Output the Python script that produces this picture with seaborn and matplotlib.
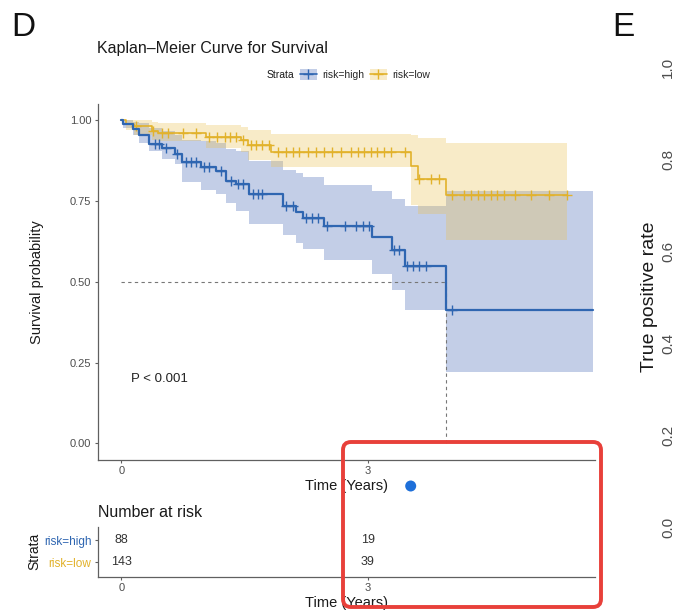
import numpy as np
import matplotlib
matplotlib.use("Agg")
import matplotlib.pyplot as plt
import seaborn as sns
from matplotlib.patches import Patch, FancyBboxPatch, Circle
from matplotlib.lines import Line2D

# ------------------------- data -------------------------
strata_labels = ["risk=high", "risk=low"]

high_time = [0.0, 0.02, 0.14, 0.22, 0.34, 0.49, 0.65, 0.74, 0.97, 1.15, 1.28, 1.40,
             1.56, 1.97, 2.13, 2.21, 2.47, 3.05, 3.30, 3.46, 3.95]
high_surv = [1.0, 0.989, 0.972, 0.953, 0.927, 0.915, 0.895, 0.869, 0.856, 0.843, 0.813,
             0.803, 0.770, 0.733, 0.715, 0.698, 0.671, 0.638, 0.597, 0.549, 0.413]
high_upper = [1.0, 1.0, 0.995, 0.99, 0.975, 0.965, 0.955, 0.94, 0.935, 0.93, 0.91,
              0.905, 0.875, 0.845, 0.835, 0.825, 0.80, 0.78, 0.757, 0.735, 0.78]
high_lower = [1.0, 0.975, 0.955, 0.93, 0.905, 0.88, 0.865, 0.81, 0.785, 0.77, 0.745,
              0.72, 0.68, 0.645, 0.62, 0.60, 0.567, 0.525, 0.475, 0.413, 0.22]
high_end = 5.75
high_censor = [0.41, 0.46, 0.55, 0.68, 0.79, 0.85, 0.91, 1.01, 1.07, 1.22, 1.34, 1.42,
               1.48, 1.60, 1.66, 1.72, 2.01, 2.09, 2.25, 2.32, 2.40, 2.51, 2.72, 2.86,
               2.94, 3.02, 3.32, 3.38, 3.48, 3.55, 3.63, 3.71, 4.03]

low_time = [0.0, 0.06, 0.16, 0.38, 0.45, 1.03, 1.46, 1.54, 1.82, 3.53, 3.61, 3.95]
low_surv = [1.0, 0.989, 0.982, 0.966, 0.959, 0.948, 0.938, 0.922, 0.903, 0.859, 0.818, 0.767]
low_upper = [1.0, 1.0, 1.0, 0.995, 0.99, 0.985, 0.98, 0.97, 0.956, 0.955, 0.946, 0.93]
low_lower = [1.0, 0.97, 0.955, 0.94, 0.935, 0.915, 0.90, 0.877, 0.855, 0.736, 0.71, 0.628]
low_end = 5.43
low_censor = [0.18, 0.39, 0.49, 0.57, 0.75, 0.91, 1.07, 1.17, 1.26, 1.32, 1.40, 1.48,
              1.58, 1.64, 1.72, 1.80, 1.91, 2.01, 2.09, 2.17, 2.27, 2.37, 2.47, 2.57,
              2.68, 2.80, 2.88, 2.96, 3.04, 3.12, 3.20, 3.28, 3.45, 3.63, 3.77, 3.87,
              4.03, 4.18, 4.26, 4.34, 4.42, 4.50, 4.58, 4.66, 4.79, 4.99, 5.21, 5.43]

x_ticks = [0, 3]
y_ticks = [0.0, 0.25, 0.50, 0.75, 1.00]
risk_times = [0, 3]
risk_high = [88, 19]
risk_low = [143, 39]
roc_ticks = [0.0, 0.2, 0.4, 0.6, 0.8, 1.0]
p_text = "P < 0.001"

# ------------------------- style -------------------------
sns.set_theme(style="ticks")
plt.rcParams["font.family"] = ["Liberation Sans", "DejaVu Sans"]

W, H = 677, 610
fig = plt.figure(figsize=(W / 100, H / 100), dpi=100)
fig.patch.set_facecolor("white")

def fx(px):
    return px / W

def fy(py):
    return 1 - py / H

blue = "#2F66B1"
blue_fill = "#3A5DB0"
gold = "#E2B22B"
gold_fill = "#EBBF4A"
axis_col = "#606060"
tick_col = "#4D4D4D"
txt_col = "#1a1a1a"

XL, XR = 98.3, 595.0
xlim = (-0.28, 5.77)

# ------------------------- main KM axes -------------------------
ax = fig.add_axes([fx(XL), fy(459.5), fx(XR) - fx(XL), (459.5 - 104) / H])


def steps(t, vals, end):
    return np.array(list(t) + [end]), np.array(list(vals) + [vals[-1]])


# bands: blue first, gold on top (beige overlap as in reference)
for t, lo, up, end, fcol in [(high_time, high_lower, high_upper, high_end, blue_fill),
                             (low_time, low_lower, low_upper, low_end, gold_fill)]:
    tt, lo2 = steps(t, lo, end)
    _, up2 = steps(t, up, end)
    ax.fill_between(tt, lo2, up2, step="post", color=fcol, alpha=0.3, lw=0, zorder=1)

# lines and censor marks
for t, s, end, cens, col, lw, z in [(low_time, low_surv, low_end, low_censor, gold, 1.2, 3),
                                    (high_time, high_surv, high_end, high_censor, blue, 1.6, 4)]:
    tt, ss = steps(t, s, end)
    sns.lineplot(x=tt, y=ss, drawstyle="steps-post", color=col, lw=lw,
                 estimator=None, sort=False, ax=ax, zorder=z)
    c = np.array(cens)
    idx = np.searchsorted(np.array(t), c, side="right") - 1
    ax.plot(c, np.array(s)[idx], ls="none", marker="+", ms=6.5, mew=1.0, color=col, zorder=z)

# median line
med_idx = next(i for i, v in enumerate(high_surv) if v <= 0.5)
med_t = high_time[med_idx]
ax.plot([0, med_t], [0.5, 0.5], ls=(0, (3, 3)), color="#777777", lw=0.8, zorder=2)
ax.plot([med_t, med_t], [0, 0.5], ls=(0, (3, 3)), color="#777777", lw=0.8, zorder=2)

ax.text(0.12, 0.198, p_text, ha="left", va="center", fontsize=9.5, color="#222222")

ax.set_xlim(*xlim)
ax.set_ylim(-0.05, 1.05)
ax.set_xticks(x_ticks)
ax.set_xticklabels([str(v) for v in x_ticks])
ax.set_yticks(y_ticks)
ax.set_yticklabels([f"{v:.2f}" for v in y_ticks])
ax.set_xlabel("Time (Years)", fontsize=10.5, color=txt_col, labelpad=2)
ax.set_ylabel("Survival probability", fontsize=10.5, color=txt_col)
ax.yaxis.set_label_coords(-0.11, 0.5)
sns.despine(ax=ax)
for sp in ["left", "bottom"]:
    ax.spines[sp].set_color(axis_col)
    ax.spines[sp].set_linewidth(0.9)
ax.tick_params(axis="both", length=2.5, width=0.8, color=axis_col, labelsize=8,
               labelcolor=tick_col, pad=2.4)
ax.set_facecolor("white")

# title + legend
fig.text(fx(97), fy(48), "Kaplan\u2013Meier Curve for Survival", ha="left", va="center",
         fontsize=11.5, color=txt_col)
fig.text(fx(266.7), fy(74.7), "Strata", ha="left", va="center", fontsize=7.5, color=txt_col)
handles = [
    (Patch(facecolor=blue_fill, alpha=0.3, lw=0),
     Line2D([], [], color=blue, lw=1.2, marker="+", ms=7, mew=1.0)),
    (Patch(facecolor=gold_fill, alpha=0.3, lw=0),
     Line2D([], [], color=gold, lw=1.2, marker="+", ms=7, mew=1.0)),
]
fig.legend(handles, strata_labels, loc="center left", bbox_to_anchor=(fx(300), fy(74.7)),
           bbox_transform=fig.transFigure, ncol=2, frameon=False, fontsize=7.5,
           handlelength=1.6, handleheight=1.2, handletextpad=0.5, columnspacing=0.6,
           borderpad=0, borderaxespad=0, numpoints=1)

# ------------------------- risk table -------------------------
axr = fig.add_axes([fx(XL), fy(576.5), fx(XR) - fx(XL), (576.5 - 527) / H])
for i, t in enumerate(risk_times):
    axr.text(t, 1, str(risk_high[i]), ha="center", va="center", fontsize=9, color="#333333")
    axr.text(t, 0, str(risk_low[i]), ha="center", va="center", fontsize=9, color="#333333")
axr.set_xlim(*xlim)
axr.set_ylim(-0.64, 1.6)
axr.set_xticks(risk_times)
axr.set_xticklabels([str(v) for v in risk_times])
axr.set_yticks([1, 0])
axr.set_yticklabels(strata_labels)
axr.set_xlabel("Time (Years)", fontsize=10.5, color=txt_col, labelpad=2)
axr.set_ylabel("Strata", fontsize=10, color=txt_col, labelpad=2)
axr.set_title("Number at risk", loc="left", fontsize=11.5, color=txt_col, pad=7)
sns.despine(ax=axr)
for sp in ["left", "bottom"]:
    axr.spines[sp].set_color(axis_col)
    axr.spines[sp].set_linewidth(0.9)
axr.tick_params(axis="both", length=2.5, width=0.8, color=axis_col, labelsize=8,
                labelcolor=tick_col, pad=2.4)
axr.tick_params(axis="y", labelsize=8.5)
for lab, col in zip(axr.get_yticklabels(), [blue, gold]):
    lab.set_color(col)

# ------------------------- panel E (cut off) -------------------------
axe = fig.add_axes([fx(686), fy(527), 0.3, (527 - 67) / H])
axe.set_ylim(0, 1)
axe.set_yticks(roc_ticks)
axe.set_yticklabels([f"{v:.1f}" for v in roc_ticks], rotation=90, va="center")
axe.set_xticks([])
for sp in axe.spines.values():
    sp.set_visible(False)
axe.tick_params(axis="y", length=0, pad=8, labelsize=11, labelcolor=tick_col)
fig.text(fx(650), fy(297), "True positive rate", rotation=90, ha="center", va="center",
         fontsize=14, color=txt_col)

# panel letters
fig.text(fx(11), fy(27), "D", ha="left", va="center", fontsize=24, color="#111111")
fig.text(fx(612), fy(27), "E", ha="left", va="center", fontsize=24, color="#111111")

# annotation overlays (red box, blue dot)
box = FancyBboxPatch((343 + 8, H - 607 + 8), 601 - 343 - 16, 607 - 442 - 16,
                     boxstyle="round,pad=8", transform=None, fill=False,
                     edgecolor="#E8403A", lw=2.8, zorder=10)
fig.patches.append(box)
dot = Circle((410.7, H - 486), 5.5, transform=None, facecolor="#1E6FD9",
             edgecolor="none", zorder=10)
fig.patches.append(dot)

fig.savefig("out.png", dpi=100, facecolor="white")
